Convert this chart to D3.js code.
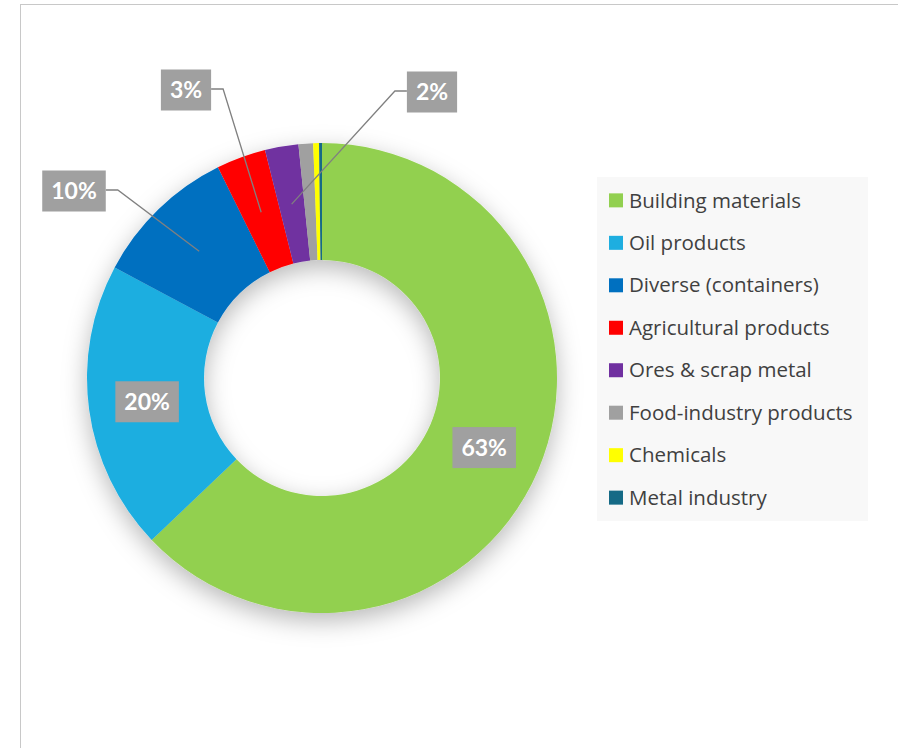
<!DOCTYPE html>
<html lang="en">
<head>
    <meta charset="UTF-8">
    <title>Freight by commodity - donut</title>
    <style>
        body { margin: 0; background: #fff; }
        svg { display: block; }
        .legend text { font-family: "Open Sans", Lato, sans-serif; font-size: 20.5px; fill: #404040; }
        .callout text { font-family: Lato, "Open Sans", sans-serif; font-size: 23px; font-weight: bold; fill: #fff; }
    </style>
</head>
<body>
    <div id="chart"></div>

    <script src="https://d3js.org/d3.v7.min.js"></script>
    <script>
        const categories = ["Building materials", "Oil products", "Diverse (containers)", "Agricultural products",
            "Ores & scrap metal", "Food-industry products", "Chemicals", "Metal industry"];
        const shares = [62.9, 19.9, 9.9, 3.4, 2.3, 1.0, 0.4, 0.2];
        const colors = ["#92d050", "#1eaee0", "#0070c0", "#ff0000", "#7030a0", "#a0a0a0", "#ffff00", "#156a86"];
        // which slices carry a label; null = inside the ring, otherwise [dx, dy] of the box from the centre
        const callouts = [null, null, [-248, -187], [-136, -288], [110, -286], false, false, false];

        const width = 898, height = 748;
        const cx = 322, cy = 378;
        const outerR = 235, innerR = 118;

        const svg = d3.select("#chart").append("svg")
            .attr("width", width)
            .attr("height", height);

        // frame of the chart area (goes past the right/bottom edge)
        svg.append("rect")
            .attr("x", 20.5).attr("y", 4.5)
            .attr("width", 1000).attr("height", 1000)
            .attr("fill", "#fff")
            .attr("stroke", "#c8c8c8");

        const defs = svg.append("defs");
        const f = defs.append("filter").attr("id", "shadow")
            .attr("x", "-30%").attr("y", "-30%").attr("width", "160%").attr("height", "160%");
        f.append("feDropShadow")
            .attr("dx", 0).attr("dy", 8)
            .attr("stdDeviation", 12)
            .attr("flood-color", "#000")
            .attr("flood-opacity", 0.28);

        const pie = d3.pie().sort(null).value(d => d);
        const arcs = pie(shares);
        const total = d3.sum(shares);

        const arc = d3.arc().innerRadius(innerR).outerRadius(outerR);

        const g = svg.append("g").attr("transform", `translate(${cx},${cy})`);

        g.append("g")
            .attr("filter", "url(#shadow)")
            .selectAll("path")
            .data(arcs)
            .enter()
            .append("path")
            .attr("d", arc)
            .attr("fill", (d, i) => colors[i]);

        // data labels
        const labels = g.append("g").attr("class", "callout");
        arcs.forEach((d, i) => {
            if (callouts[i] === false) return;
            const c = arc.centroid(d);
            const pos = callouts[i] === null ? c : callouts[i];
            const lg = labels.append("g");
            const txt = lg.append("text")
                .attr("x", pos[0])
                .attr("y", pos[1])
                .attr("text-anchor", "middle")
                .attr("dy", "0.36em")
                .text(Math.round(d.value / total * 100) + "%");
            const w = txt.node().getComputedTextLength() + 18, h = 41;
            lg.insert("rect", "text")
                .attr("x", pos[0] - w / 2)
                .attr("y", pos[1] - h / 2)
                .attr("width", w)
                .attr("height", h)
                .attr("fill", "#a0a0a0");
            if (callouts[i] !== null) {
                const side = c[0] > pos[0] ? 1 : -1;
                const x0 = pos[0] + side * w / 2;
                const y0 = pos[1] - 1;
                labels.insert("polyline", ":first-child")
                    .attr("points", [[x0, y0], [x0 + side * 12, y0], c].map(p => p.join(",")).join(" "))
                    .attr("fill", "none")
                    .attr("stroke", "#808080")
                    .attr("stroke-width", 1.3);
            }
        });

        // legend
        const legend = svg.append("g").attr("class", "legend")
            .attr("transform", "translate(597,177)");
        legend.append("rect")
            .attr("width", 271).attr("height", 344)
            .attr("fill", "#f8f8f8");
        const rowY = d3.scaleBand().domain(d3.range(categories.length)).range([0, 344]).paddingOuter(0.05);
        const items = legend.selectAll(".item")
            .data(categories)
            .enter()
            .append("g")
            .attr("class", "item")
            .attr("transform", (d, i) => `translate(0,${rowY(i) + rowY.bandwidth() / 2})`);
        items.append("rect")
            .attr("x", 12).attr("y", -7)
            .attr("width", 14).attr("height", 14)
            .attr("fill", (d, i) => colors[i]);
        items.append("text")
            .attr("x", 32)
            .attr("dy", "0.35em")
            .text(d => d);
    </script>
</body>
</html>
